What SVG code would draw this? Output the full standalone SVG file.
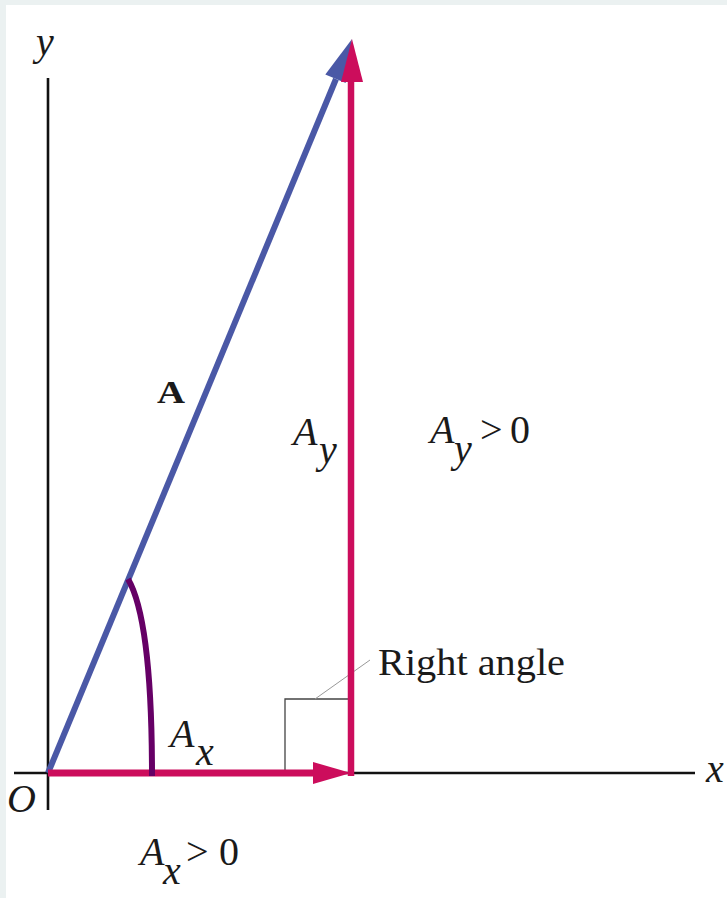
<svg xmlns="http://www.w3.org/2000/svg" width="727" height="898" viewBox="0 0 727 898">
  <style>
    .it { font-family: "Liberation Serif", "Times New Roman", serif; font-style: italic; fill: #1a1a1a; font-size: 40px; }
    .rm { font-family: "Liberation Serif", "Times New Roman", serif; fill: #1a1a1a; font-size: 40px; }
    .axis { stroke: #111; stroke-width: 2.6; fill: none; }
    .red { stroke: #cc0d5c; fill: none; }
    .redfill { fill: #cc0d5c; }
    .blue { stroke: #4a58a6; fill: none; }
    .bluefill { fill: #4a58a6; }
  </style>
  <rect x="0" y="0" width="727" height="898" fill="#ffffff"/>
  <rect x="0" y="0" width="727" height="5" fill="#ebf1f1"/>
  <rect x="0" y="0" width="6" height="898" fill="#ebf1f1"/>

  <g id="axes">
    <line class="axis" x1="48" y1="78" x2="48" y2="810"/>
    <line class="axis" x1="14" y1="773" x2="695" y2="773"/>
    <text class="it" x="36" y="55">y</text>
    <text class="it" x="706" y="782">x</text>
    <text class="it" x="7" y="812">O</text>
  </g>

  <g id="right-angle">
    <path d="M285,773 V699 H349" stroke="#444" stroke-width="1.3" fill="none"/>
    <line x1="315" y1="699" x2="370" y2="660" stroke="#999" stroke-width="1"/>
    <text class="rm" x="378" y="675" style="font-size:38px" textLength="187" lengthAdjust="spacingAndGlyphs">Right angle</text>
  </g>

  <g id="connectors">
    <g id="vector-A">
      <line class="blue" x1="48" y1="773" x2="336" y2="79" stroke-width="6"/>
      <polygon class="bluefill" points="352,39 345.7,82.9 325.3,74.5"/>
    </g>
    <g id="vector-Ay">
      <line class="red" x1="351" y1="776" x2="351" y2="78" stroke-width="6.5"/>
      <polygon class="redfill" points="352,39 363,82 341,82"/>
    </g>
    <g id="vector-Ax">
      <line class="red" x1="48" y1="773" x2="316" y2="773" stroke-width="7"/>
      <polygon class="redfill" points="351,773 313,762 313,784"/>
    </g>
    <path id="angle-arc" d="M128,579 C145,608 152,680 152,776" stroke="#660066" stroke-width="6" fill="none"/>
  </g>

  <g id="labels">
    <text x="157" y="403" style="font-size:32px" font-weight="bold" class="rm" textLength="28" lengthAdjust="spacingAndGlyphs">A</text>
    <g id="label-Ay">
      <text class="it" x="293" y="445">A</text>
      <text class="it" x="319" y="463">y</text>
    </g>
    <g id="label-Ay-pos">
      <text class="it" x="430" y="443">A</text>
      <text class="it" x="454" y="462">y</text>
      <text class="rm" x="480" y="443">&gt;</text>
      <text class="rm" x="510" y="443">0</text>
    </g>
    <g id="label-Ax">
      <text class="it" x="170" y="747">A</text>
      <text class="it" x="196" y="765">x</text>
    </g>
    <g id="label-Ax-pos">
      <text class="it" x="140" y="865">A</text>
      <text class="it" x="163" y="884">x</text>
      <text class="rm" x="186" y="865">&gt;</text>
      <text class="rm" x="219" y="865">0</text>
    </g>
  </g>
</svg>
